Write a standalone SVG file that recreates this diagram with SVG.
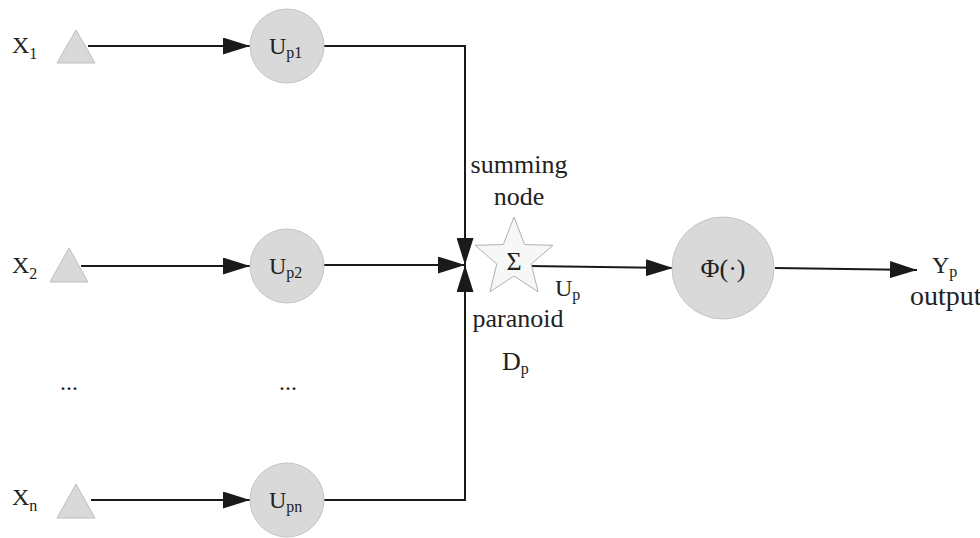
<svg xmlns="http://www.w3.org/2000/svg" width="980" height="538" viewBox="0 0 980 538">
<defs>
<marker id="ah" viewBox="0 0 27 17" refX="27" refY="8.5" markerWidth="27" markerHeight="17" markerUnits="userSpaceOnUse" orient="auto">
<path d="M0,0 L27,8.5 L0,17 Z" fill="#1a1a1a"/>
</marker>
<style>
text{font-family:"Liberation Serif","Times New Roman",serif;font-size:24px;fill:#222}
.big{font-size:26px}
.out{font-size:28px}
.sub{font-size:16px}
.tri{fill:#d9d9d9;stroke:#bdbdbd;stroke-width:1}
.circ{fill:#d9d9d9;stroke:#c4c4c4;stroke-width:1}
.ln{fill:none;stroke:#1a1a1a;stroke-width:2}
</style>
</defs>
<rect width="980" height="538" fill="#fff"/>
<g id="connectors">
<line class="ln" x1="88" y1="46" x2="250" y2="46" marker-end="url(#ah)"/>
<line class="ln" x1="81" y1="266" x2="250" y2="266" marker-end="url(#ah)"/>
<line class="ln" x1="91" y1="500" x2="250" y2="500" marker-end="url(#ah)"/>
<polyline class="ln" points="324,46 465,46 465,265" marker-end="url(#ah)"/>
<line class="ln" x1="324" y1="265" x2="465" y2="265" marker-end="url(#ah)"/>
<polyline class="ln" points="324,500 465,500 465,265" marker-end="url(#ah)"/>
<line class="ln" x1="528" y1="266" x2="673" y2="268" marker-end="url(#ah)"/>
<line class="ln" x1="775" y1="268" x2="917" y2="270" marker-end="url(#ah)"/>
</g>
<g id="x1"><polygon class="tri" points="76,30 95,63 57,63"/><text x="12" y="53">X<tspan class="sub" dy="6">1</tspan></text></g>
<g id="x2"><polygon class="tri" points="69,248 88,282 50,282"/><text x="12" y="273">X<tspan class="sub" dy="6">2</tspan></text></g>
<g id="xn"><polygon class="tri" points="76,484 95,518 57,518"/><text x="12" y="505">X<tspan class="sub" dy="6">n</tspan></text></g>
<g id="dots1"><text x="60" y="390">...</text></g>
<g id="dots2"><text x="279" y="390">...</text></g>
<g id="up1"><circle class="circ" cx="287" cy="46" r="37"/><text x="269" y="54">U<tspan class="sub" dy="4">p1</tspan></text></g>
<g id="up2"><circle class="circ" cx="287" cy="266" r="37"/><text x="269" y="274">U<tspan class="sub" dy="4">p2</tspan></text></g>
<g id="upn"><circle class="circ" cx="287" cy="500" r="37"/><text x="269" y="508">U<tspan class="sub" dy="4">pn</tspan></text></g>
<g id="sum">
<polygon points="514,217 524.6,244.5 553,245.3 531.2,264 538.1,291.8 514,276 489.9,291.8 496.8,264 475,245.3 503.4,244.5" fill="#f7f7f7" stroke="#b0b0b0" stroke-width="1"/>
<text class="big" x="514" y="270" text-anchor="middle">Σ</text>
<text class="big" x="519" y="173" text-anchor="middle">summing</text>
<text class="big" x="519" y="205" text-anchor="middle">node</text>
<text class="big" x="518" y="327" text-anchor="middle">paranoid</text>
<text class="big" x="502" y="370">D<tspan class="sub" dy="4">p</tspan></text>
<text x="555" y="296">U<tspan class="sub" dy="4">p</tspan></text>
</g>
<g id="phi"><circle class="circ" cx="723" cy="268" r="51"/><text class="big" x="723" y="277" text-anchor="middle">Φ(·)</text></g>
<g id="out"><text x="932" y="273">Y<tspan class="sub" dy="4">p</tspan></text><text class="out" x="910" y="305">output</text></g>
</svg>
